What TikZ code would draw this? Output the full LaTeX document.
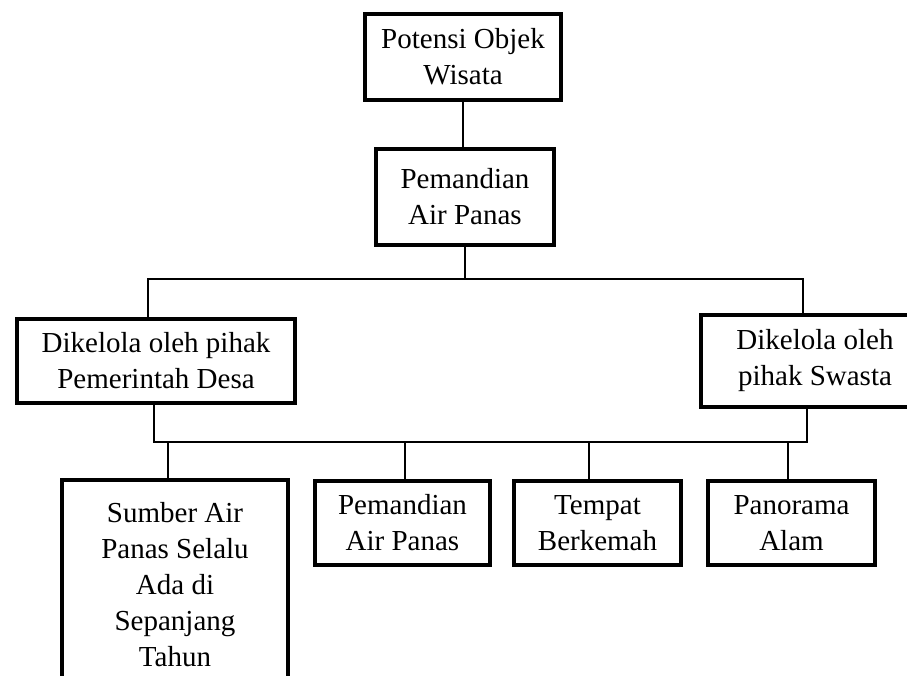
\documentclass[tikz,border=0pt]{standalone}
\usepackage{fontspec}
\setmainfont{Liberation Serif}
\begin{document}
\begin{tikzpicture}[x=1pt,y=-1pt,
  box/.style={draw, line width=4pt, align=center, inner sep=0pt,
    font=\fontsize{29}{36}\selectfont},
  conn/.style={line width=2pt}]
\useasboundingbox (0,0) rectangle (907,675);
\clip (0,0) rectangle (907,675);
\fill[white] (0,0) rectangle (907,675);
% nodes
\node[box, minimum width=196pt, minimum height=86pt] (top) at (463,57) {Potensi Objek\\Wisata};
\node[box, minimum width=178pt, minimum height=96pt] (pa) at (465,197) {Pemandian\\Air Panas};
\node[box, minimum width=278pt, minimum height=84pt] (kd) at (156,361) {Dikelola oleh pihak\\Pemerintah Desa};
\node[box, minimum width=228pt, minimum height=92pt] (ks) at (815,361) {Dikelola oleh\\pihak Swasta};
\node[box, minimum width=226pt, minimum height=210pt] (s1) at (175,585) {Sumber Air\\Panas Selalu\\Ada di\\Sepanjang\\Tahun};
\node[box, minimum width=175pt, minimum height=84pt] (s2) at (402.5,523) {Pemandian\\Air Panas};
\node[box, minimum width=167pt, minimum height=84pt] (s3) at (597.5,523) {Tempat\\Berkemah};
\node[box, minimum width=167pt, minimum height=84pt] (s4) at (791.5,523) {Panorama\\Alam};
% bus coordinates
\coordinate (b1l) at (148,279);
\coordinate (b1r) at (803,279);
\coordinate (b2l) at (154,442);
\coordinate (b2r) at (807,442);
\coordinate (d1) at (168,442);
\coordinate (d2) at (405,442);
\coordinate (d3) at (589,442);
\coordinate (d4) at (788,442);
% connectors
\draw[conn] (top.south) -- (top.south |- pa.north);
\draw[conn] (pa.south) -- (pa.south |- b1l);
\draw[conn] (kd.north -| b1l) -- (b1l) -- (b1r) -- (ks.north -| b1r);
\draw[conn] (kd.south -| b2l) -- (b2l) -- (b2r) -- (ks.south -| b2r);
\draw[conn] (d1) -- (d1 |- s1.north);
\draw[conn] (d2) -- (d2 |- s2.north);
\draw[conn] (d3) -- (d3 |- s3.north);
\draw[conn] (d4) -- (d4 |- s4.north);
\end{tikzpicture}
\end{document}
